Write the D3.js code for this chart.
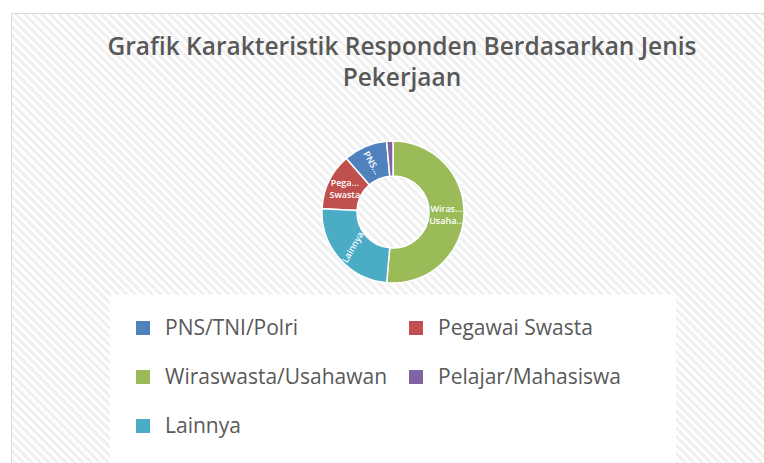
<!DOCTYPE html>
<html lang="id">
<head>
<meta charset="UTF-8">
<title>Grafik Karakteristik Responden Berdasarkan Jenis Pekerjaan</title>
<script src="https://d3js.org/d3.v7.min.js"></script>
<style>
  html, body { margin: 0; padding: 0; background: #fff; }
  svg { display: block; }
</style>
</head>
<body>
<div id="chart"></div>
<script>
// data, in legend order
const categories = ["PNS/TNI/Polri", "Pegawai Swasta", "Wiraswasta/Usahawan", "Pelajar/Mahasiswa", "Lainnya"];
const values = [7, 9, 36, 1, 17];
const colors = ["#4f81bd", "#c0504d", "#9bbb59", "#8064a2", "#4bacc6"];
// slice labels as shown (truncated) on the ring
const sliceLabels = [["PNS..."], ["Pega...", "Swasta"], ["Wiras...", "Usaha..."], [], ["Lainnya"]];
// clockwise order of slices from 12 o'clock
const drawOrder = ["Wiraswasta/Usahawan", "Lainnya", "Pegawai Swasta", "PNS/TNI/Polri", "Pelajar/Mahasiswa"];
const titleLines = ["Grafik Karakteristik Responden Berdasarkan Jenis", "Pekerjaan"];

const width = 764, height = 463;
const font = "'Open Sans', Lato, sans-serif";

const svg = d3.select("#chart").append("svg")
  .attr("width", width)
  .attr("height", height)
  .attr("viewBox", [0, 0, width, height]);

// diagonal hatch background
const defs = svg.append("defs");
const pat = defs.append("pattern")
  .attr("id", "hatch")
  .attr("patternUnits", "userSpaceOnUse")
  .attr("width", 6).attr("height", 6)
  .attr("patternTransform", "rotate(-45)");
pat.append("rect").attr("width", 6).attr("height", 6).attr("fill", "#ffffff");
pat.append("rect").attr("width", 3).attr("height", 6).attr("fill", "#f0f0f0");

svg.append("rect")
  .attr("x", 11.5).attr("y", 13.5)
  .attr("width", width).attr("height", height)
  .attr("fill", "url(#hatch)")
  .attr("stroke", "#d9d9d9");

// title
svg.append("g")
  .selectAll("text")
  .data(titleLines)
  .join("text")
  .attr("x", 402)
  .attr("y", (d, i) => 55 + i * 31)
  .attr("text-anchor", "middle")
  .attr("font-family", font)
  .attr("font-weight", 600)
  .attr("font-size", 24.5)
  .attr("fill", "#595959")
  .text(d => d);

// donut
const data = categories.map((c, i) => ({ name: c, value: values[i], color: colors[i], label: sliceLabels[i] }));
const cx = 393, cy = 212, rOuter = 71, rInner = 36;

const pie = d3.pie()
  .value(d => d.value)
  .sort((a, b) => drawOrder.indexOf(a.name) - drawOrder.indexOf(b.name));
const arcs = pie(data);
const arc = d3.arc().innerRadius(rInner).outerRadius(rOuter);

const g = svg.append("g").attr("transform", `translate(${cx},${cy})`);

g.selectAll("path")
  .data(arcs)
  .join("path")
  .attr("d", arc)
  .attr("fill", d => d.data.color)
  .attr("stroke", "#ffffff")
  .attr("stroke-width", 1.5);

// slice labels
const labelRot = { "PNS/TNI/Polri": 60, "Lainnya": -60 };
const lab = g.selectAll("g.lab")
  .data(arcs.filter(d => d.data.label.length))
  .join("g")
  .attr("class", "lab")
  .attr("transform", d => {
    const [x, y] = arc.centroid(d);
    const r = labelRot[d.data.name] || 0;
    return `translate(${x},${y}) rotate(${r})`;
  });

lab.selectAll("text")
  .data(d => d.data.label.map((t, i, a) => ({ t, i, n: a.length })))
  .join("text")
  .attr("y", d => (d.i - (d.n - 1) / 2) * 12)
  .attr("dy", "0.35em")
  .attr("text-anchor", "middle")
  .attr("font-family", font)
  .attr("font-weight", 600)
  .attr("font-size", 9)
  .attr("fill", "#ffffff")
  .text(d => d.t);

// legend
const lg = svg.append("g");
lg.append("rect")
  .attr("x", 110).attr("y", 295)
  .attr("width", 566).attr("height", 168)
  .attr("fill", "#ffffff");

const item = lg.selectAll("g.item")
  .data(data)
  .join("g")
  .attr("class", "item")
  .attr("transform", (d, i) => `translate(${136 + (i % 2) * 273},${328 + Math.floor(i / 2) * 49})`);

item.append("rect")
  .attr("x", 0).attr("y", -7)
  .attr("width", 14).attr("height", 14)
  .attr("fill", d => d.color);

item.append("text")
  .attr("x", 29)
  .attr("dy", "0.35em")
  .attr("font-family", font)
  .attr("font-size", 21)
  .attr("fill", "#595959")
  .text(d => d.name);
</script>
</body>
</html>
